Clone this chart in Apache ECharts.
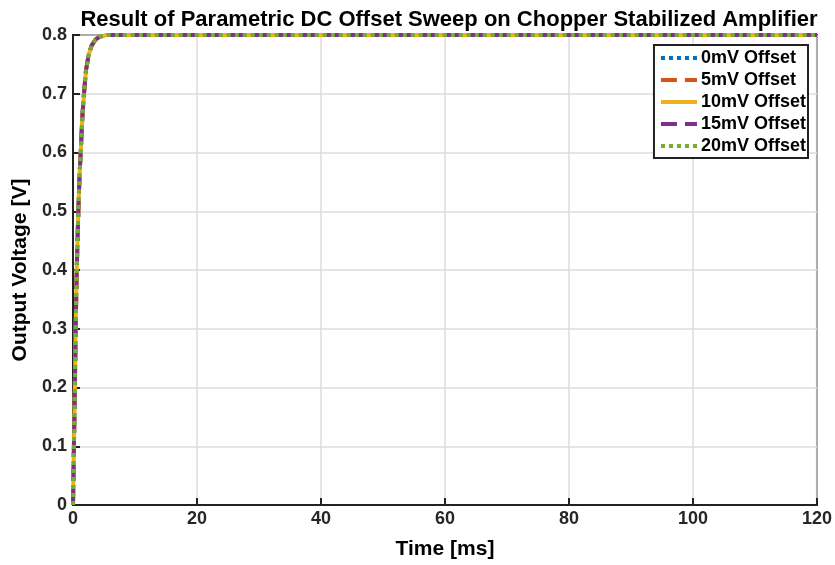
<!DOCTYPE html>
<html><head><meta charset="utf-8">
<script src="https://cdn.jsdelivr.net/npm/echarts@6/dist/echarts.min.js"></script>
<style>html,body{margin:0;padding:0;background:#fff}#c{width:835px;height:565px}</style>
</head><body><div id="c"></div>
<script>
const seriesNames = ['0mV Offset','5mV Offset','10mV Offset','15mV Offset','20mV Offset'];
const colors = ['#0072BD','#D95319','#EDB120','#7E2F8E','#77AC30'];
const lineTypes = ['dotted','dashed','solid','dashed','dotted'];
// time [ms]
const timeMs = [0,0.15,0.3,0.43,0.6,0.86,1.05,1.24,1.5,1.77,2.1,2.5,3.0,3.6,4.3,5.5,7,10,20,40,60,80,100,120];
// output voltage [V], same response for every offset
const v0  = [0,0.1,0.2,0.3,0.4,0.5,0.56,0.6,0.66,0.7,0.74,0.765,0.782,0.792,0.797,0.8,0.8,0.8,0.8,0.8,0.8,0.8,0.8,0.8];
const v5  = v0.slice();
const v10 = v0.slice();
const v15 = v0.slice();
const v20 = v0.slice();
const values = [v0,v5,v10,v15,v20];
const xTicks = [0,20,40,60,80,100,120];
const yTicks = [0,0.1,0.2,0.3,0.4,0.5,0.6,0.7,0.8];

const font = 'Liberation Sans, Arial, sans-serif';
const chart = echarts.init(document.getElementById('c'));
chart.setOption({
  animation:false,
  title:{text:'Result of Parametric DC Offset Sweep on Chopper Stabilized Amplifier',left:444,top:4,textAlign:'center',
    textStyle:{fontFamily:font,fontWeight:'bold',fontSize:22,color:'#000'}},
  grid:{left:73,right:17,top:35,bottom:60,show:true,borderColor:'#222',borderWidth:2,backgroundColor:'transparent'},
  legend:{show:true,orient:'vertical',right:27,top:45,itemWidth:36,itemHeight:10,itemGap:4,
    borderColor:'#222',borderWidth:2,padding:[4,2,3,5],backgroundColor:'#fff',
    itemStyle:{opacity:0},
    lineStyle:{width:4},
    textStyle:{fontFamily:font,fontWeight:'bold',fontSize:18,lineHeight:18,color:'#000',padding:[0,0,0,-1]},
    data:seriesNames},
  xAxis:{type:'value',min:0,max:120,interval:20,
    name:'Time [ms]',nameLocation:'middle',nameGap:34,
    nameTextStyle:{fontFamily:font,fontWeight:'bold',fontSize:21,color:'#000'},
    axisLine:{show:true,lineStyle:{color:'#222',width:2}},
    axisTick:{show:true,inside:true,length:7,lineStyle:{color:'#222',width:2}},
    axisLabel:{fontFamily:font,fontWeight:'bold',fontSize:18,color:'#262626',margin:5},
    splitLine:{show:true,lineStyle:{color:'#dcdcdc',width:1.5}}},
  yAxis:{type:'value',min:0,max:0.8,interval:0.1,
    name:'Output Voltage [V]',nameLocation:'middle',nameGap:37,
    nameTextStyle:{fontFamily:font,fontWeight:'bold',fontSize:21,color:'#000'},
    axisLine:{show:true,lineStyle:{color:'#222',width:2}},
    axisTick:{show:true,inside:true,length:7,lineStyle:{color:'#222',width:2}},
    axisLabel:{fontFamily:font,fontWeight:'bold',fontSize:18,color:'#262626',margin:6,
      formatter:v=>String(Math.round(v*10)/10)},
    splitLine:{show:true,lineStyle:{color:'#dcdcdc',width:1.5}}},
  series: seriesNames.map((n,i)=>({
    name:n,type:'line',showSymbol:false,symbol:'none',smooth:false,
    data: timeMs.map((t,j)=>[t,values[i][j]]),
    lineStyle:{color:colors[i],width:4,type:lineTypes[i]},
    itemStyle:{color:colors[i]},
    z:2+i
  }))
});
</script></body></html>
